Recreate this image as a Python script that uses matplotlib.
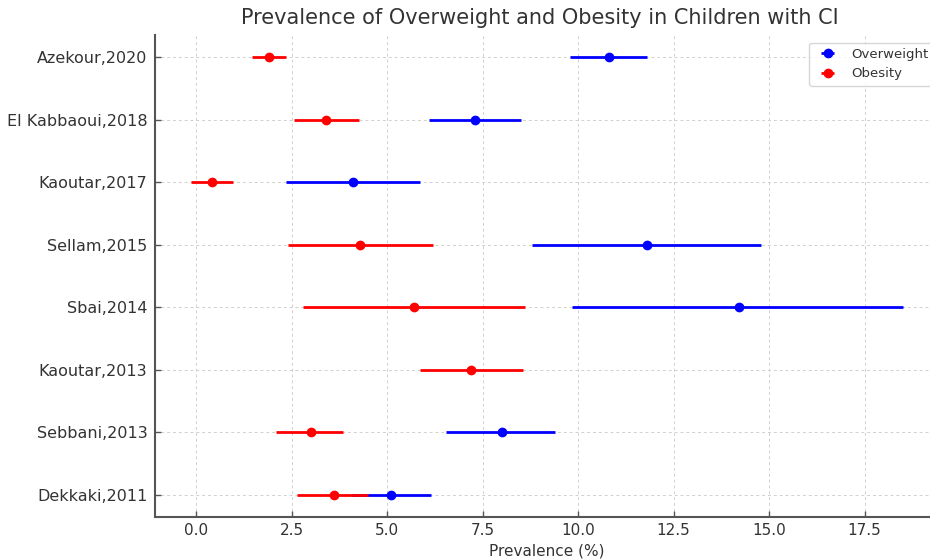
import matplotlib
matplotlib.use("Agg")
import matplotlib.pyplot as plt
import numpy as np

studies = ["Dekkaki,2011", "Sebbani,2013", "Kaoutar,2013", "Sbai,2014",
           "Sellam,2015", "Kaoutar,2017", "El Kabbaoui,2018", "Azekour,2020"]

# Overweight (None = not reported)
ow_val = [5.1, 8.0, None, 14.2, 11.8, 4.1, 7.3, 10.8]
ow_low = [4.05, 6.55, None, 9.85, 8.8, 2.35, 6.1, 9.8]
ow_high = [6.15, 9.4, None, 18.5, 14.8, 5.85, 8.5, 11.8]

# Obesity
ob_val = [3.6, 3.0, 7.2, 5.7, 4.3, 0.4, 3.4, 1.9]
ob_low = [2.65, 2.1, 5.85, 2.8, 2.4, -0.15, 2.55, 1.45]
ob_high = [4.5, 3.85, 8.55, 8.6, 6.2, 0.95, 4.25, 2.35]

xticks = [0, 2.5, 5, 7.5, 10, 12.5, 15, 17.5]

txt = "#333333"
plt.rcParams['font.family'] = ['DejaVu Sans']

fig = plt.figure(figsize=(9.3, 5.59), dpi=100)
ax = fig.add_axes([155/930, 42/559, (939-155)/930, (517-35)/559])

y = np.arange(len(studies))

idx = [i for i, v in enumerate(ow_val) if v is not None]
ov = np.array([ow_val[i] for i in idx])
ol = np.array([ow_low[i] for i in idx])
oh = np.array([ow_high[i] for i in idx])
ax.errorbar(ov, y[idx], xerr=[ov - ol, oh - ov], fmt='o', color='blue',
            ecolor='blue', elinewidth=2, markersize=6, capsize=0, label='Overweight')

bv = np.array(ob_val); bl = np.array(ob_low); bh = np.array(ob_high)
ax.errorbar(bv, y, xerr=[bv - bl, bh - bv], fmt='o', color='red',
            ecolor='red', elinewidth=2, markersize=6, capsize=0, label='Obesity')

ax.set_yticks(y)
ax.set_yticklabels(studies)
ax.set_xticks(xticks)
ax.set_xlim(-1.08, 19.45)
ax.set_ylim(-0.35, 7.35)

ax.grid(True, linestyle=(0, (3, 3)), color='#d0d0d0', linewidth=0.7)
ax.set_axisbelow(True)
for s in ['top', 'right']:
    ax.spines[s].set_visible(False)
for s in ['left', 'bottom']:
    ax.spines[s].set_color('#555555')
    ax.spines[s].set_linewidth(1.5)
ax.tick_params(axis='both', direction='in', colors='#555555',
               labelcolor=txt, length=4, width=1)
ax.tick_params(axis='y', labelsize=11.5, pad=5.5)
ax.tick_params(axis='x', labelsize=11, pad=4.5)

ax.set_title("Prevalence of Overweight and Obesity in Children with CI",
             fontsize=15, color=txt, pad=8, x=0.491)
ax.set_xlabel("Prevalence (%)", fontsize=11, color=txt, labelpad=4)

leg = ax.legend(loc='upper right', fontsize=9.5, frameon=True,
                bbox_to_anchor=(1.002, 0.998))
for t in leg.get_texts():
    t.set_color(txt)

fig.savefig("out.png", dpi=100)
